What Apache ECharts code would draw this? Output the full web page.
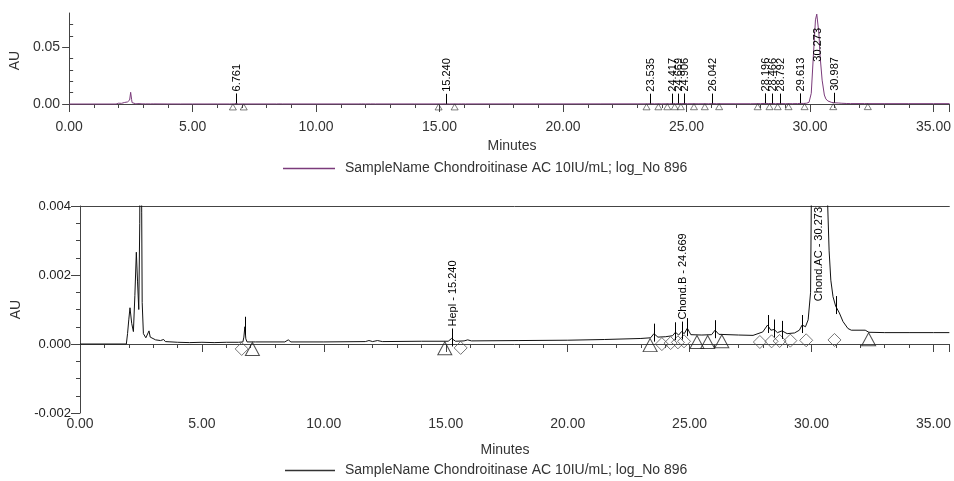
<!DOCTYPE html>
<html><head><meta charset="utf-8">
<script src="https://cdn.jsdelivr.net/npm/echarts@6/dist/echarts.min.js"></script>
<style>html,body{margin:0;padding:0;background:#fff}#c{width:954px;height:481px}</style>
</head><body><div id="c"></div>
<script>
// chromatogram: [minutes, AU]
const chromatogram = [
[0,0],[1.90,0],[1.95,0.0003],[2.00,0.0007],[2.05,0.00105],[2.12,0.0006],[2.19,0.00036],[2.25,0.0014],
[2.31,0.00266],[2.36,0.0018],[2.41,0.001],[2.45,0.0035],[2.49,0.0103],[2.53,0.0038],[2.55,0.0012],[2.60,0.0003],
[2.70,0.00018],[2.78,0.0002],[2.83,0.00038],[2.88,0.0002],[2.95,0.00015],[3.10,0.00012],[3.30,0.0001],[3.43,0.00013],
[3.50,0.00007],[4.00,0.00005],[4.50,0.00004],[5.00,0.00005],[5.50,0.00004],[6.00,0.00005],[6.50,0.00005],[6.68,0.00006],
[6.72,0.0002],[6.761,0.0005],[6.80,0.00015],[6.85,0.00006],[7.20,0.00006],[8.40,0.00006],[8.54,0.00012],[8.65,0.00006],
[10.0,0.00006],[11.70,0.00007],[11.85,0.0001],[12.00,0.00007],[12.20,0.0001],[12.40,0.00007],[14.0,0.00008],[15.10,0.00008],
[15.24,0.00016],[15.40,0.00008],[15.75,0.00009],[15.90,0.00012],[16.05,0.00009],[18.0,0.0001],[20.0,0.00011],[21.5,0.00013],
[23.0,0.00016],[23.40,0.00018],[23.535,0.0003],[23.70,0.0002],[24.00,0.00021],[24.30,0.00024],[24.417,0.00034],[24.55,0.00026],
[24.669,0.00036],[24.78,0.0003],[24.906,0.00046],[25.05,0.00027],[25.50,0.00026],[25.90,0.00027],[26.042,0.0004],[26.20,0.00028],
[27.00,0.00026],[27.60,0.00025],[28.00,0.00035],[28.196,0.00055],[28.33,0.0004],[28.466,0.00042],[28.60,0.00033],[28.792,0.00038],
[29.00,0.0003],[29.30,0.00032],[29.50,0.0004],[29.613,0.00055],[29.75,0.0005],[29.86,0.0007],[29.96,0.0015],[30.05,0.0094],
[30.14,0.044],[30.22,0.074],[30.273,0.079],[30.36,0.062],[30.41,0.0415],[30.49,0.021],[30.58,0.0079],[30.64,0.0045],
[30.72,0.0027],[30.79,0.00185],[30.88,0.00137],[30.987,0.0011],[31.14,0.0009],[31.29,0.00065],[31.49,0.00045],[31.63,0.0004],
[32.20,0.0004],[32.35,0.00034],[33.0,0.00033],[34.0,0.00033],[35.0,0.00033],[35.65,0.00033]
];
const peakTimes = [6.761, 15.240, 23.535, 24.417, 24.669, 24.906, 26.042, 28.196, 28.466, 28.792, 29.613, 30.273, 30.987];
const peakNames = ["", "Hepl", "", "", "Chond.B", "", "", "", "", "", "", "Chond.AC", ""];
const triangleMarks = [[7.07,0.00006],[14.96,0.00008],[23.38,0.00017],[25.30,0.00026],[25.74,0.00026],[26.32,0.00028],[32.34,0.00034]];
const diamondMarks = [[6.63,0.00006],[15.61,0.00009],[23.86,0.0002],[24.22,0.00023],[24.52,0.00025],[24.77,0.00028],
  [27.88,0.00026],[28.36,0.00028],[28.69,0.00029],[29.13,0.0003],[29.78,0.00031],[30.94,0.00032]];
const topYMajor = [0, 0.05];
const topYMinor = [0.01, 0.02, 0.03, 0.04, 0.06, 0.07];
const legendText = "SampleName Chondroitinase AC 10IU/mL; log_No 896";
const xTitle = "Minutes";
const yTitle = "AU";

const FONT = '"Liberation Sans", Arial, sans-serif';
const lineCol = '#444';

function apexOf(t){ for (const p of chromatogram) if (Math.abs(p[0]-t) < 1e-6) return p[1]; return 0; }
const peakData = peakTimes.map((t,i)=>[t, apexOf(t), i]);

const mctx = document.createElement('canvas').getContext('2d');
function measure(txt, font){ mctx.font = font; return mctx.measureText(txt).width; }

function peakRenderer(gridTop, pad, below, named){
  const font = '11px ' + FONT;
  return function(params, api){
    const i = api.value(2);
    const p = api.coord([api.value(0), api.value(1)]);
    const x = Math.round(p[0]) + 0.5;
    const yTop = p[1] - 10, yBot = p[1] + below;
    const children = [];
    if (yTop > gridTop) children.push({type:'line', shape:{x1:x,y1:yBot,x2:x,y2:yTop}, style:{stroke:'#000', lineWidth:1}});
    let label = named ? (peakNames[i] ? peakNames[i] + ' - ' + peakTimes[i].toFixed(3) : '') : peakTimes[i].toFixed(3);
    if (label){
      const len = measure(label, font);
      let ay = yTop - 2;
      if (ay - len < gridTop + pad) ay = gridTop + pad + len;
      children.push({type:'text', x:x, y:ay, rotation:Math.PI/2,
        style:{text:label, font:font, fill:'#000', align:'left', verticalAlign:'middle'}});
    }
    return {type:'group', children};
  };
}

const chart = echarts.init(document.getElementById('c'), null, {renderer:'canvas'});
const XMAX = 35.65;
function mainX(gi, size, margin){
  return {gridIndex:gi, type:'value', min:0, max:XMAX, interval:5,
    axisLine:{show:true, lineStyle:{color:lineCol}},
    axisTick:{show:true, length:8, lineStyle:{color:lineCol}},
    minorTick:{show:true, splitNumber:5, length:4, lineStyle:{color:lineCol}},
    splitLine:{show:false}, minorSplitLine:{show:false},
    axisLabel:{formatter:v=>v.toFixed(2), fontFamily:FONT, fontSize:size, color:'#333', margin:margin, showMaxLabel:false}};
}
function borderX(gi){
  return {gridIndex:gi, type:'value', position:'top', min:0, max:XMAX,
    axisLine:{show:true, lineStyle:{color:lineCol}}, axisTick:{show:false}, axisLabel:{show:false}, splitLine:{show:false}};
}

const option = {
  animation:false,
  backgroundColor:'#fff',
  grid:[
    {left:68, top:13, width:886, height:95},
    {left:80, top:206, width:874, height:207}
  ],
  xAxis:[ mainX(0, 14, 12), borderX(0), mainX(1, 14, 4), borderX(1) ],
  yAxis:[
    {gridIndex:0, type:'value', min:-0.0035, max:0.08,
      name:yTitle, nameLocation:'middle', nameRotate:90, nameGap:45, nameTextStyle:{fontFamily:FONT, fontSize:14, color:'#333'},
      axisLine:{show:true, lineStyle:{color:lineCol}},
      axisTick:{show:true, length:7, customValues:topYMajor, lineStyle:{color:lineCol}},
      axisLabel:{customValues:topYMajor, formatter:v=>v.toFixed(2), fontFamily:FONT, fontSize:14, color:'#333', margin:9},
      splitLine:{show:false}},
    {gridIndex:0, type:'value', min:-0.0035, max:0.08,
      axisLine:{show:false}, axisLabel:{show:false}, splitLine:{show:false},
      axisTick:{show:true, length:4, customValues:topYMinor, lineStyle:{color:lineCol}}},
    {gridIndex:1, type:'value', min:-0.002, max:0.004, interval:0.002,
      name:yTitle, nameLocation:'middle', nameRotate:90, nameGap:57, nameTextStyle:{fontFamily:FONT, fontSize:14, color:'#333'},
      axisLine:{show:true, lineStyle:{color:lineCol}},
      axisTick:{show:true, length:9, lineStyle:{color:lineCol}},
      minorTick:{show:true, splitNumber:4, length:4, lineStyle:{color:lineCol}},
      axisLabel:{formatter:v=>v.toFixed(3), fontFamily:FONT, fontSize:13, color:'#222', margin:9},
      splitLine:{show:false}, minorSplitLine:{show:false}}
  ],
  series:[
    {type:'line', xAxisIndex:0, yAxisIndex:0, data:chromatogram, showSymbol:false, symbol:'none', clip:true,
      lineStyle:{color:'#7b3b7b', width:1}, z:2},
    {type:'scatter', xAxisIndex:0, yAxisIndex:0, data:triangleMarks, symbol:'triangle', symbolSize:[7,6], symbolOffset:[0,3],
      itemStyle:{color:'rgba(0,0,0,0)', borderColor:'#333', borderWidth:0.8}, z:3, silent:true},
    {type:'scatter', xAxisIndex:0, yAxisIndex:0, data:diamondMarks, symbol:'triangle', symbolSize:[7,6], symbolOffset:[0,3],
      itemStyle:{color:'rgba(0,0,0,0)', borderColor:'#333', borderWidth:0.8}, z:3, silent:true},
    {type:'custom', xAxisIndex:0, yAxisIndex:0, data:peakData, renderItem:peakRenderer(13, 15, 0, false), clip:true, z:4, silent:true},

    {type:'line', xAxisIndex:2, yAxisIndex:2, data:chromatogram, showSymbol:false, symbol:'none', clip:true,
      lineStyle:{color:'#111', width:1}, z:2},
    {type:'scatter', xAxisIndex:2, yAxisIndex:2, data:triangleMarks, symbol:'triangle', symbolSize:[14,13], symbolOffset:[0,7],
      itemStyle:{color:'rgba(0,0,0,0)', borderColor:'#222', borderWidth:1}, z:3, silent:true},
    {type:'scatter', xAxisIndex:2, yAxisIndex:2, data:diamondMarks, symbol:'diamond', symbolSize:[13,13], symbolOffset:[0,7],
      itemStyle:{color:'rgba(0,0,0,0)', borderColor:'#555', borderWidth:1}, z:3, silent:true},
    {type:'custom', xAxisIndex:2, yAxisIndex:2, data:peakData, renderItem:peakRenderer(206, 1, 8, true), clip:true, z:4, silent:true}
  ],
  graphic:[
    {type:'text', x:512, y:146, style:{text:xTitle, font:'14px '+FONT, fill:'#333', align:'center', verticalAlign:'middle'}},
    {type:'line', shape:{x1:283, y1:168.5, x2:335, y2:168.5}, style:{stroke:'#7b3b7b', lineWidth:1.5}},
    {type:'text', x:345, y:168, style:{text:legendText, font:'14px '+FONT, fill:'#333', verticalAlign:'middle'}},
    {type:'text', x:505, y:450, style:{text:xTitle, font:'14px '+FONT, fill:'#333', align:'center', verticalAlign:'middle'}},
    {type:'line', shape:{x1:285, y1:470.5, x2:335, y2:470.5}, style:{stroke:'#333', lineWidth:1.5}},
    {type:'text', x:345, y:470, style:{text:legendText, font:'14px '+FONT, fill:'#333', verticalAlign:'middle'}}
  ]
};
chart.setOption(option);
</script></body></html>
